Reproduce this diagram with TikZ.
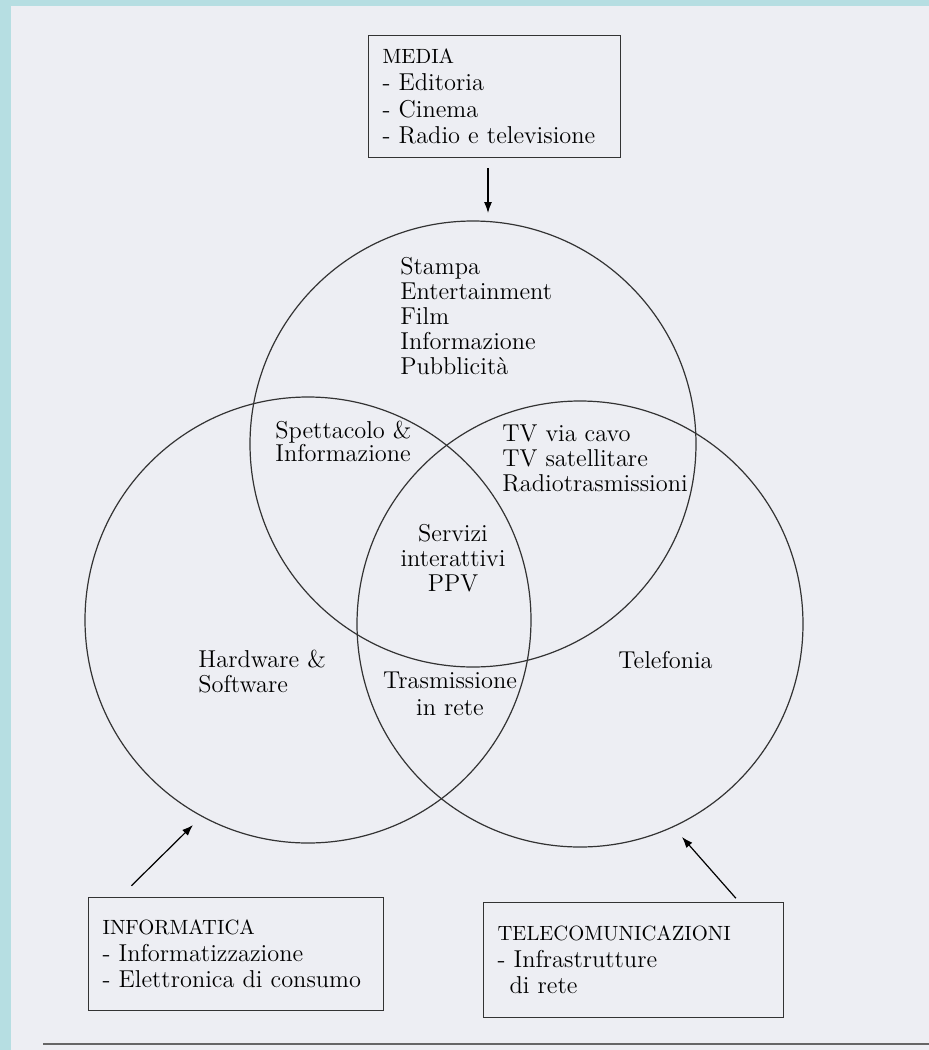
\documentclass[tikz,border=0pt]{standalone}
\usetikzlibrary{calc, positioning, arrows.meta}

\definecolor{paper}{RGB}{237,238,243}
\definecolor{scanblue}{RGB}{182,222,226}

\newcommand{\boxtitle}[1]{{\fontsize{10.3}{13.3}\selectfont #1}}

\tikzset{
  ring/.style={circle, draw=black!80, line width=0.6pt, minimum size=223pt, inner sep=0pt},
  lbl/.style={align=left, inner sep=0pt, anchor=north west, font=\fontsize{12.2}{12.5}\selectfont},
  srcbox/.style={draw=black!80, line width=0.6pt, align=left, anchor=north west,
    inner xsep=7pt, inner ysep=0pt, font=\fontsize{12.2}{13.3}\selectfont},
  arr/.style={->, line width=0.6pt}
}

\begin{document}
\begin{tikzpicture}[>={Latex[length=5.5pt,width=4pt]}, x=0.5pt, y=-0.5pt]
    \fill[paper] (0,0) rectangle (929,1050);
    \fill[scanblue] (0,0) rectangle (929,6);
    \fill[scanblue] (0,0) rectangle (11,1050);
    \useasboundingbox (0,0) rectangle (929,1050);

    % the three sectors
    \node[ring] (media) at (473,444) {};
    \node[ring] (informatica) at (308,620) {};
    \node[ring] (tlc) at (580,624) {};

    \node[lbl] (stampa) at (400,257) {Stampa\\Entertainment\\Film\\Informazione\\Pubblicità};
    \node[lbl, font=\fontsize{12.2}{11.5}\selectfont] (spettacolo) at (275,421) {Spettacolo \&\\Informazione};
    \node[lbl] (tvcavo) at (502,424) {TV via cavo\\TV satellitare\\Radiotrasmissioni};
    \node[lbl, align=center, anchor=north] (servizi) at (453,524) {Servizi\\interattivi\\PPV};
    \node[lbl] (hardware) at (198,650) {Hardware \&\\Software};
    \node[lbl] (telefonia) at (618,651) {Telefonia};
    \node[lbl, align=center, anchor=north, font=\fontsize{12.2}{13.5}\selectfont] (trasmissione) at (450,672) {Trasmissione\\in rete};

    % boxes
    \node[srcbox, text width=112pt, minimum height=61pt] (mediabox) at (368,35)
        {\boxtitle{MEDIA}\\- Editoria\\- Cinema\\- Radio e televisione};
    \node[srcbox, text width=133.5pt, minimum height=56.5pt] (infobox) at (88,897)
        {\boxtitle{INFORMATICA}\\- Informatizzazione\\- Elettronica di consumo};
    \node[srcbox, text width=136pt, minimum height=57.5pt] (tlcbox) at (483,902)
        {\boxtitle{TELECOMUNICAZIONI}\\- Infrastrutture\\\hspace*{6pt}di rete};

    % arrows
    \coordinate (mediatip) at (488,213);
    \coordinate (infotip) at (193,825);
    \coordinate (tlctip) at (682,837);
    \draw[arr, shorten <=5pt] (mediabox.south -| mediatip) -- (mediatip);
    \draw[arr, shorten <=8pt] ($(infobox.north west)+(32,0)$) -- (infotip);
    \draw[arr, shorten <=2.5pt] ($(tlcbox.north east)+(-45,0)$) -- (tlctip);

    \draw[black!60, line width=1.2pt] (43,1044) -- (929,1044);
\end{tikzpicture}
\end{document}
